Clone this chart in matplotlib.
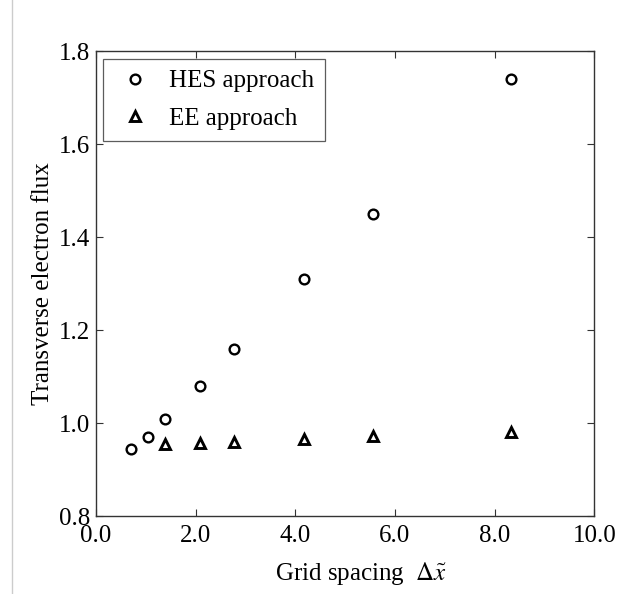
import matplotlib
matplotlib.use("Agg")
import matplotlib.pyplot as plt
from matplotlib.lines import Line2D

plt.rcParams['font.family'] = ['Liberation Serif', 'DejaVu Serif']
plt.rcParams['mathtext.fontset'] = 'stix'

hes_x = [0.694, 1.042, 1.389, 2.083, 2.778, 4.167, 5.556, 8.333]
hes_y = [0.945, 0.970, 1.010, 1.080, 1.160, 1.310, 1.450, 1.740]
ee_x = [1.389, 2.083, 2.778, 4.167, 5.556, 8.333]
ee_y = [0.955, 0.958, 0.960, 0.965, 0.972, 0.982]
xticks = [0, 2, 4, 6, 8, 10]
xticklabels = ['0.0', '2.0', '4.0', '6.0', '8.0', '10.0']
yticks = [0.8, 1.0, 1.2, 1.4, 1.6, 1.8]
yticklabels = ['0.8', '1.0', '1.2', '1.4', '1.6', '1.8']

fig = plt.figure(figsize=(6.19, 5.94), dpi=100)
ax = fig.add_axes([0.155, 0.131, 0.805, 0.783])

ax.plot(hes_x, hes_y, linestyle='none', marker='o', markersize=7,
        markerfacecolor='none', markeredgecolor='black', markeredgewidth=1.7,
        label='HES approach')
ax.plot(ee_x, ee_y, linestyle='none', marker='^', markersize=7.5,
        markerfacecolor='none', markeredgecolor='black', markeredgewidth=2.1,
        label='EE approach')

ax.set_xlim(0, 10)
ax.set_ylim(0.8, 1.8)
ax.set_xticks(xticks)
ax.set_xticklabels(xticklabels)
ax.set_yticks(yticks)
ax.set_yticklabels(yticklabels)
ax.tick_params(direction='in', length=5, width=0.8, top=True, right=True,
               labelsize=18, color='#333333')
ax.tick_params(axis='x', pad=6)
ax.tick_params(axis='y', pad=4)
for s in ax.spines.values():
    s.set_linewidth(1.0)
    s.set_color('#333333')

ax.set_xlabel(r'Grid spacing  $\Delta\tilde{x}$', fontsize=18, labelpad=10)
ax.xaxis.label.set_x(0.532)
ax.set_ylabel('Transverse electron flux', fontsize=18, labelpad=4)

leg = ax.legend(loc='upper left', fontsize=18, frameon=True, fancybox=False,
                edgecolor='#333333', borderpad=0.45, handlelength=1.6,
                handletextpad=0.56, borderaxespad=0.3, labelspacing=0.6)
leg.get_frame().set_linewidth(0.9)

fig.add_artist(Line2D([12/619, 12/619], [0, 1], color='#cccccc', linewidth=1.0,
                      transform=fig.transFigure))

fig.savefig('out.png', dpi=100)
